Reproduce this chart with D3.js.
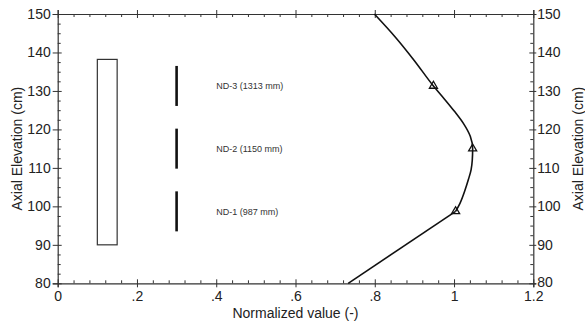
<!DOCTYPE html>
<html>
<head>
<meta charset="utf-8">
<script src="https://cdn.jsdelivr.net/npm/d3@7.9.0/dist/d3.min.js"></script>
<style>
  body { margin: 0; background: #fff; }
  svg { display: block; font-family: "Liberation Sans", Arial, Helvetica, sans-serif; }
  .axis path, .axis line { stroke: #333; }
  .axis text { fill: #222; font-size: 14px; }
</style>
</head>
<body>
<svg width="585" height="327"></svg>
<script>
// tick values and labels
const xMajor = [0, 0.2, 0.4, 0.6, 0.8, 1.0, 1.2];
const xLabels = ['0', '.2', '.4', '.6', '.8', '1', '1.2'];
const yMajor = [80, 90, 100, 110, 120, 130, 140, 150];

// power profile (x = normalized value, y = elevation in cm)
const lowerX = [0.733, 1.004];
const lowerY = [80, 98.7];
const upperX = [1.004, 1.015, 1.028, 1.036, 1.043, 1.046, 1.047, 1.041, 1.024, 1.001, 0.975, 0.948, 0.899, 0.851, 0.799];
const upperY = [98.7, 100.8, 104.3, 106.9, 109.5, 112.0, 115.0, 118.2, 121.5, 124.7, 128.0, 131.3, 138.0, 144.1, 150];

// neutron detectors
const detectorNames = ['ND-1 (987 mm)', 'ND-2 (1150 mm)', 'ND-3 (1313 mm)'];
const detectorElev = [98.7, 115.0, 131.3];
const detectorValue = [1.004, 1.047, 0.948];
const dashLow = [93.5, 109.8, 126.1];
const dashHigh = [103.9, 120.2, 136.5];
const dashX = 0.3;
const labelX = 0.4;

// heated bundle box
const boxX = [0.1, 0.15];
const boxY = [90, 138.2];

let svg = d3.select('svg');
let mLeft = 57.7, mRight = 533.3, mTop = 14, mBottom = 283.3;

let x = d3.scaleLinear().domain([0, 1.2]).range([mLeft, mRight]);
let y = d3.scaleLinear().domain([80, 150]).range([mBottom, mTop]);

let xMinor = d3.range(0, 1.2001, 0.04).filter((v) => !xMajor.some((m) => Math.abs(m - v) < 1e-6));
let yMinor = d3.range(80, 150.001, 2.5).filter((v) => v % 10 !== 0);

// minor ticks, all pointing inside
function minor(axis, g) {
    g.call(axis.tickFormat('').tickSizeOuter(0));
    g.select('.domain').remove();
}
minor(d3.axisBottom(x).tickValues(xMinor).tickSizeInner(-3), svg.append('g').attr('class', 'axis').attr('transform', `translate(0,${mBottom})`));
minor(d3.axisTop(x).tickValues(xMinor).tickSizeInner(-3), svg.append('g').attr('class', 'axis').attr('transform', `translate(0,${mTop})`));
minor(d3.axisLeft(y).tickValues(yMinor).tickSizeInner(-3), svg.append('g').attr('class', 'axis').attr('transform', `translate(${mLeft},0)`));
minor(d3.axisRight(y).tickValues(yMinor).tickSizeInner(-3), svg.append('g').attr('class', 'axis').attr('transform', `translate(${mRight},0)`));

// major ticks cross the frame
let gb = svg.append('g').attr('class', 'axis').attr('transform', `translate(0,${mBottom})`)
    .call(d3.axisBottom(x).tickValues(xMajor).tickFormat((d, i) => xLabels[i]).tickSize(4).tickPadding(3.5));
gb.selectAll('.tick line').attr('y1', -4);

let gt = svg.append('g').attr('class', 'axis').attr('transform', `translate(0,${mTop})`)
    .call(d3.axisTop(x).tickValues(xMajor).tickFormat('').tickSize(4));
gt.selectAll('.tick line').attr('y1', 4);

let gl = svg.append('g').attr('class', 'axis').attr('transform', `translate(${mLeft},0)`)
    .call(d3.axisLeft(y).tickValues(yMajor).tickSize(5).tickPadding(2));
gl.selectAll('.tick line').attr('x1', 4);

let gr = svg.append('g').attr('class', 'axis').attr('transform', `translate(${mRight},0)`)
    .call(d3.axisRight(y).tickValues(yMajor).tickSize(3).tickPadding(1));
gr.selectAll('.tick line').attr('x1', -4);
// lift the lowest right label a touch so it clears "1.2"
gr.selectAll('.tick text').filter((d) => d === 80).attr('dy', '0.22em');

svg.selectAll('.axis .domain').attr('stroke-width', 1.2);

// axis titles
svg.append('text')
    .attr('x', (mLeft + mRight) / 2).attr('y', 318)
    .attr('text-anchor', 'middle').attr('font-size', 14).attr('fill', '#222')
    .text('Normalized value (-)');

svg.append('text')
    .attr('transform', `translate(22,${(mTop + mBottom) / 2}) rotate(-90)`)
    .attr('text-anchor', 'middle').attr('font-size', 14).attr('fill', '#222')
    .text('Axial Elevation (cm)');

svg.append('text')
    .attr('transform', `translate(583,${(mTop + mBottom) / 2}) rotate(-90)`)
    .attr('text-anchor', 'middle').attr('font-size', 14).attr('fill', '#222')
    .text('Axial Elevation (cm)');

// bundle box
svg.append('rect')
    .attr('x', x(boxX[0])).attr('y', y(boxY[1]))
    .attr('width', x(boxX[1]) - x(boxX[0])).attr('height', y(boxY[0]) - y(boxY[1]))
    .attr('fill', 'none').attr('stroke', '#333').attr('stroke-width', 1.2);

// detector dashes and labels
detectorNames.forEach((name, i) => {
    svg.append('line')
        .attr('x1', x(dashX)).attr('x2', x(dashX))
        .attr('y1', y(dashLow[i])).attr('y2', y(dashHigh[i]))
        .attr('stroke', '#111').attr('stroke-width', 2.6);
    svg.append('text')
        .attr('x', x(labelX)).attr('y', y(detectorElev[i]))
        .attr('dy', '0.35em').attr('font-size', 9).attr('fill', '#333')
        .text(name);
});

// profile: straight below ND-1, smooth above
let lowerLine = d3.line().x((d, i) => x(lowerX[i])).y((d) => y(d));
svg.append('path')
    .attr('d', lowerLine(lowerY))
    .attr('fill', 'none').attr('stroke', '#111').attr('stroke-width', 1.6);

let upperLine = d3.line().curve(d3.curveMonotoneY).x((d, i) => x(upperX[i])).y((d) => y(d));
svg.append('path')
    .attr('d', upperLine(upperY))
    .attr('fill', 'none').attr('stroke', '#111').attr('stroke-width', 1.6);

// detector markers
let tri = d3.symbol().type(d3.symbolTriangle).size(28);
detectorValue.forEach((v, i) => {
    svg.append('path')
        .attr('d', tri())
        .attr('transform', `translate(${x(v)},${y(detectorElev[i])})`)
        .attr('fill', 'none').attr('stroke', '#111').attr('stroke-width', 1.3);
});
</script>
</body>
</html>
